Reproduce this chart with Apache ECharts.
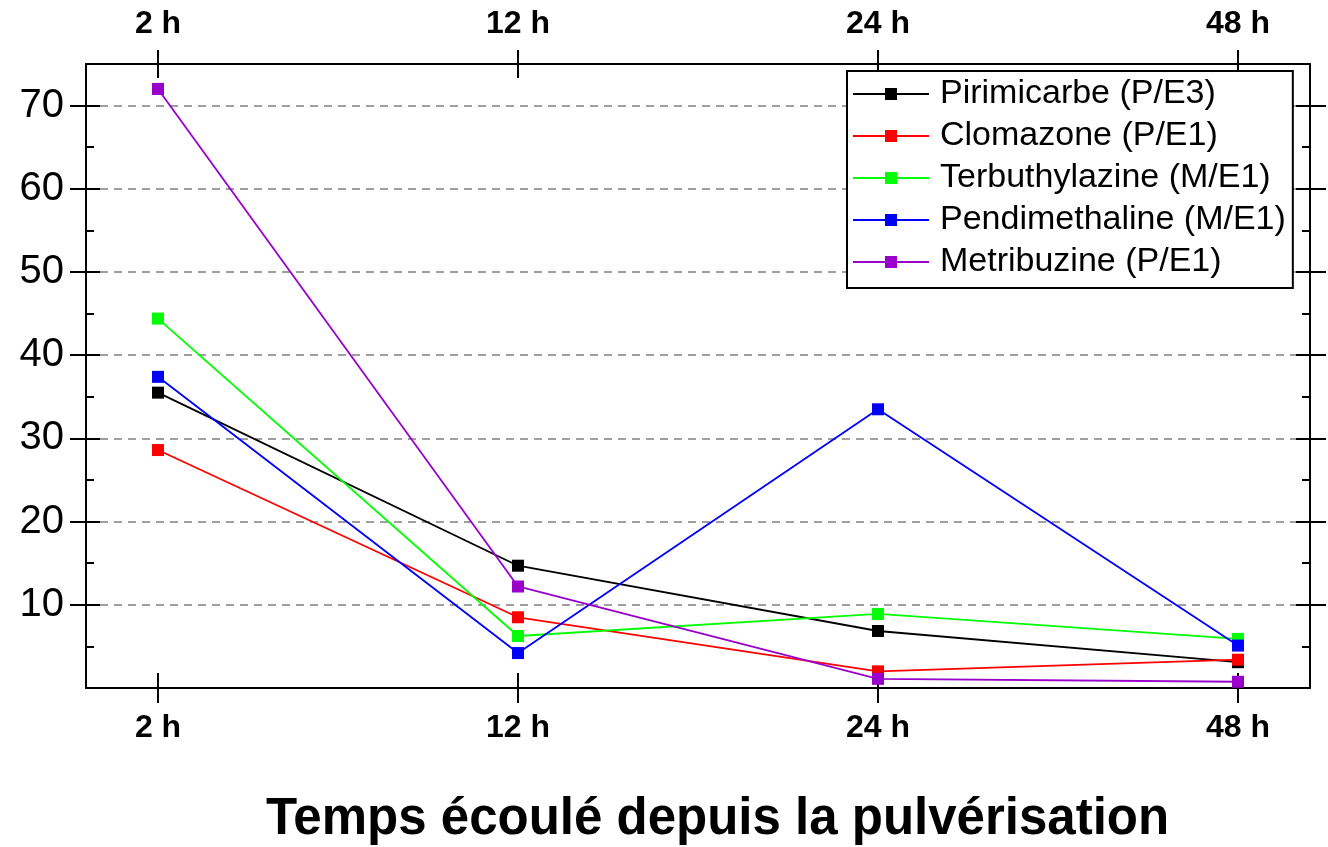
<!DOCTYPE html>
<html>
<head>
<meta charset="utf-8">
<script src="https://cdn.jsdelivr.net/npm/echarts@6/dist/echarts.min.js"></script>
<style>
  html, body { margin: 0; padding: 0; background: #fff; }
  #main { width: 1328px; height: 847px; }
</style>
</head>
<body>
<div id="main"></div>
<script>
// categories (time after spraying)
var timeLabels = ['2 h', '12 h', '24 h', '48 h'];
var yTicks = [10, 20, 30, 40, 50, 60, 70];
var yMinorTicks = [5, 15, 25, 35, 45, 55, 65];

// series values
var pirimicarbe = [35.5, 14.7, 6.85, 3.1];
var clomazone = [28.6, 8.5, 2.0, 3.4];
var terbuthylazine = [44.4, 6.25, 8.9, 5.9];
var pendimethaline = [37.4, 4.2, 33.5, 5.1];
var metribuzine = [72.0, 12.2, 1.1, 0.75];

var seriesNames = ['Pirimicarbe (P/E3)', 'Clomazone (P/E1)', 'Terbuthylazine (M/E1)', 'Pendimethaline (M/E1)', 'Metribuzine (P/E1)'];
var seriesData = [pirimicarbe, clomazone, terbuthylazine, pendimethaline, metribuzine];
var colors = ['#000000', '#ff0000', '#00ff00', '#0000ff', '#9900cc'];

var font = "'Liberation Sans', Arial, sans-serif";
var tickIdx = timeLabels.map(function (t, i) { return i; });

var myChart = echarts.init(document.getElementById('main'));

// one x axis per side and tick direction, so the ticks cross the frame
function xAx(pos, inside, len, labels) {
    return {
        type: 'value', position: pos, min: -0.2, max: 3.2,
        axisLine: { show: !inside, onZero: false, lineStyle: { color: '#000', width: 2 } },
        axisTick: { show: true, inside: inside, length: len, customValues: tickIdx,
            lineStyle: { color: '#000', width: 2 } },
        axisLabel: {
            show: labels, customValues: tickIdx, margin: 24,
            formatter: function (v) { return timeLabels[Math.round(v)]; },
            color: '#000', fontFamily: font, fontWeight: 'bold', fontSize: 32
        },
        splitLine: { show: false }
    };
}

function yAx(pos, inside, len, ticks, labels, lineShow, split) {
    return {
        type: 'value', position: pos, min: 0, max: 75, interval: 10,
        axisLine: { show: lineShow, onZero: false, lineStyle: { color: '#000', width: 2 } },
        axisTick: { show: true, inside: inside, length: len, customValues: ticks,
            lineStyle: { color: '#000', width: 2 } },
        axisLabel: {
            show: labels, customValues: yTicks, margin: 22,
            color: '#000', fontFamily: font, fontSize: 40
        },
        splitLine: { show: split, lineStyle: { color: '#808080', width: 1.5, type: [8, 6] } }
    };
}

var series = seriesNames.map(function (name, i) {
    return {
        name: name,
        type: 'line',
        xAxisIndex: 0,
        yAxisIndex: 0,
        symbol: 'rect',
        symbolSize: 12,
        color: colors[i],
        lineStyle: { width: 1.8, color: colors[i] },
        itemStyle: { color: colors[i] },
        data: seriesData[i].map(function (v, j) { return [j, v]; })
    };
});

var option = {
    animation: false,
    backgroundColor: '#fff',
    title: {
        text: 'Temps écoulé depuis la pulvérisation',
        left: 261, top: 789,
        textStyle: { color: '#000', fontFamily: font, fontWeight: 'bold', fontSize: 51 }
    },
    grid: { left: 86, right: 18, top: 64, bottom: 159 },
    legend: {
        orient: 'vertical',
        left: 847, top: 71,
        padding: [6, 7, 9, 5],
        itemWidth: 76, itemHeight: 15, itemGap: 8,
        borderColor: '#000', borderWidth: 2,
        backgroundColor: '#fff',
        textStyle: { color: '#000', fontFamily: font, fontSize: 34, lineHeight: 34, padding: [0, 0, 0, 6] },
        data: seriesNames
    },
    xAxis: [
        xAx('bottom', false, 15, true),
        xAx('bottom', true, 15, false),
        xAx('top', false, 14, true),
        xAx('top', true, 14, false)
    ],
    yAxis: [
        yAx('left', false, 16, yTicks, true, true, true),
        yAx('left', true, 14, yTicks, false, false, false),
        yAx('left', true, 8, yMinorTicks, false, false, false),
        yAx('right', false, 16, yTicks, false, true, false),
        yAx('right', true, 14, yTicks, false, false, false),
        yAx('right', true, 8, yMinorTicks, false, false, false)
    ],
    series: series
};

myChart.setOption(option);
</script>
</body>
</html>
